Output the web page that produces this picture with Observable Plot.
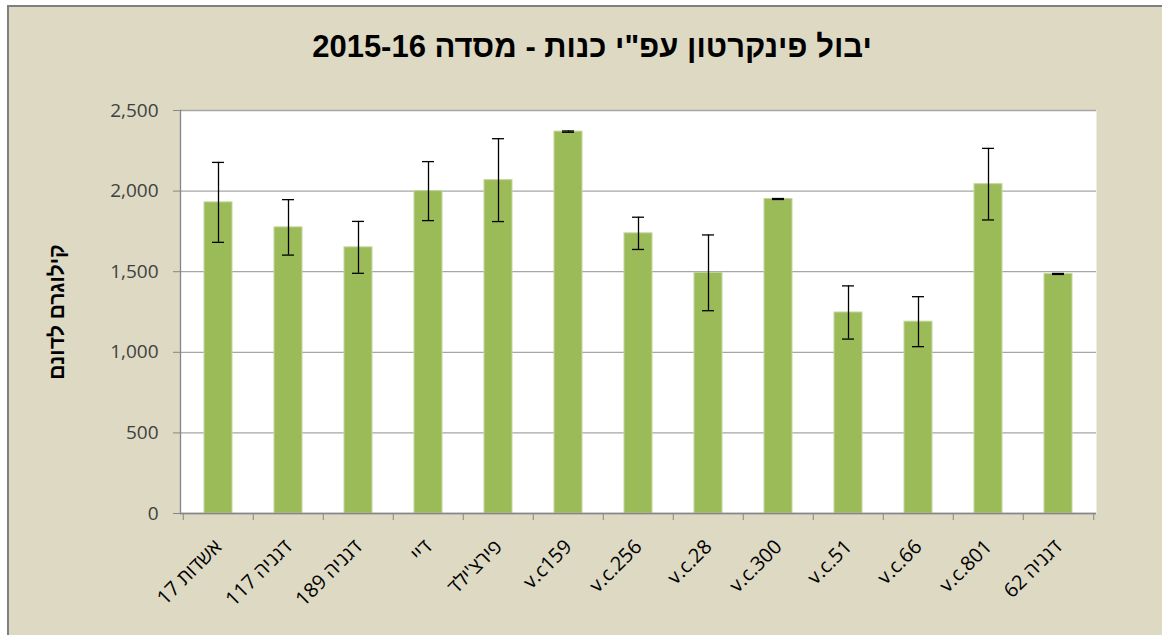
<!DOCTYPE html>
<html><head><meta charset="utf-8">
<script src="https://cdn.jsdelivr.net/npm/d3@7"></script>
<script src="https://cdn.jsdelivr.net/npm/@observablehq/plot@0.6"></script>
<style>
html,body{margin:0;padding:0;background:#fff;width:1162px;height:635px;overflow:hidden;}
#chart{position:absolute;left:7px;top:5px;width:1155px;height:630px;border-left:2px solid #7f7f7f;border-top:2px solid #7f7f7f;background:#DDD9C3;overflow:hidden;}
#title{position:absolute;left:0;top:22px;width:1166px;text-align:center;font:bold 31px "Liberation Sans",Arial,sans-serif;color:#000;white-space:nowrap;}
#plot{position:absolute;left:0;top:80px;}
</style></head><body>
<div id="chart"><div id="title"></div><div id="plot"></div></div>
<script>
const titleText = "יבול פינקרטון עפ\"י כנות - מסדה 2015-16";
const yLabel = "קילוגרם לדונם";
const categories = ["אשדות 17","דגניה 117","דגניה 189","דיי","פירצ'ילד","v.c159","v.c.256","v.c.28","v.c.300","v.c.51","v.c.66","v.c.801","דגניה 62"];
const yields = [1930, 1775, 1651, 2000, 2068, 2369, 1738, 1493, 1951, 1247, 1190, 2043, 1486];
const errors = [248, 172, 161, 183, 257, 4, 100, 235, 3, 165, 155, 222, 3];
const yTicks = [0, 500, 1000, 1500, 2000, 2500];

document.getElementById("title").textContent = titleText;

const data = categories.map((c, i) => ({cat: c, v: yields[i], e: errors[i]}));
const W = 1153, H = 548, mL = 171, mR = 66, mT = 23, mB = 122;
const step = (W - mL - mR) / categories.length;

const chart = Plot.plot({
  width: W, height: H,
  marginLeft: mL, marginRight: mR, marginTop: mT, marginBottom: mB,
  style: {background: "transparent", fontFamily: "'Open Sans','Liberation Sans',sans-serif", overflow: "visible"},
  x: {type: "band", domain: categories, paddingInner: 0.6, paddingOuter: 0.3, axis: null},
  y: {domain: [0, 2500], axis: null},
  marks: [
    Plot.frame({fill: "white", stroke: null}),
    Plot.gridY(yTicks, {stroke: "#a6a6a6", strokeOpacity: 1, strokeWidth: 1.3}),
    Plot.barY(data, {x: "cat", y: "v", fill: "#9BBB59", stroke: "#c3d69b", strokeWidth: 1}),
    Plot.ruleX(data, {x: "cat", y1: d => d.v - d.e, y2: d => d.v + d.e, stroke: "#000", strokeWidth: 1.3}),
    Plot.tickY(data, {x: "cat", y: d => d.v + d.e, stroke: "#000", strokeWidth: 1.3, insetLeft: 8, insetRight: 8}),
    Plot.tickY(data, {x: "cat", y: d => d.v - d.e, stroke: "#000", strokeWidth: 1.3, insetLeft: 8, insetRight: 8}),
    Plot.ruleY([0], {stroke: "#868686", strokeWidth: 1.3}),
    Plot.frame({anchor: "left", stroke: "#868686", strokeWidth: 1.3}),
    Plot.axisY(yTicks, {label: null, tickSize: 7, tickPadding: 15, tickFormat: d3.format(","), fontSize: 19, stroke: "#868686", fill: "#404040"}),
    Plot.axisX({label: null, tickSize: 0, tickRotate: -45, tickPadding: 30, fontSize: 20, fill: "#000"}),
    Plot.axisX(categories, {label: null, tickSize: 7, tickFormat: () => "", stroke: "#868686", dx: -step / 2}),
    Plot.axisX([categories[categories.length - 1]], {label: null, tickSize: 7, tickFormat: () => "", stroke: "#868686", dx: step / 2}),
    Plot.text([yLabel], {frameAnchor: "left", textAnchor: "middle", rotate: -90, dx: -123, fontSize: 21, fontWeight: "bold", fill: "#000", fontFamily: "'Liberation Sans',sans-serif"})
  ]
});
document.getElementById("plot").appendChild(chart);
</script>
</body></html>
